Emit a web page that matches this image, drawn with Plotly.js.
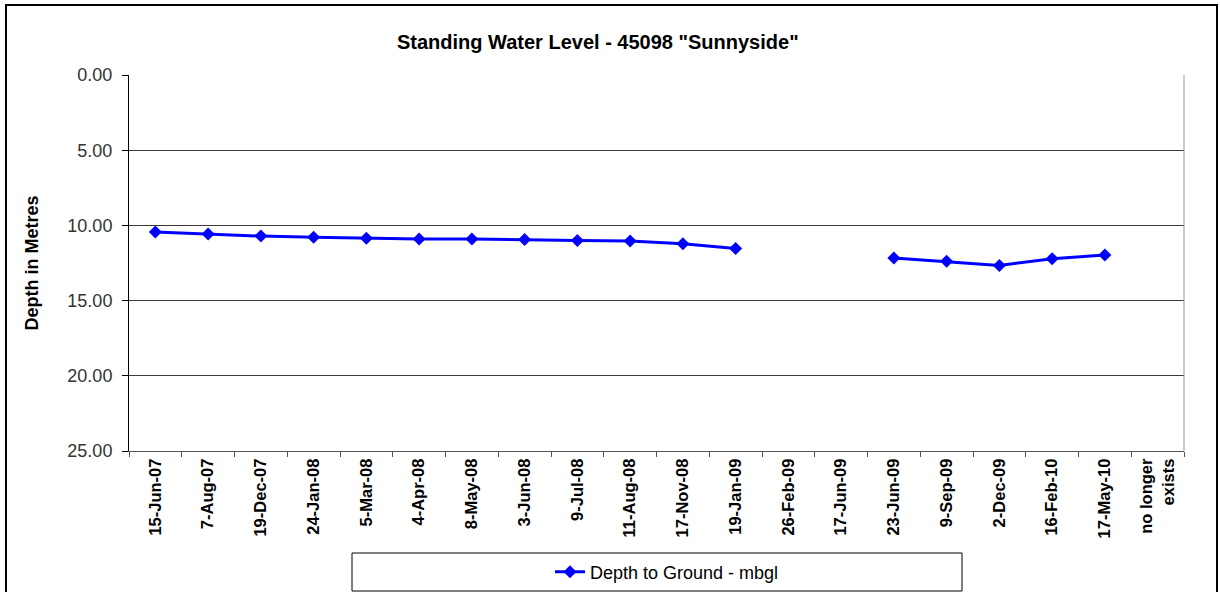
<!DOCTYPE html>
<html>
<head>
<meta charset="utf-8">
<script src="https://cdn.plot.ly/plotly-3.0.1.min.js"></script>
<style>
  html, body { margin: 0; padding: 0; background: #fff; overflow: hidden; }
  #chart { width: 1220px; height: 592px; }
  #frame { position: absolute; left: 5px; top: 4px; width: 1209px; height: 600px; border: 2px solid #000; pointer-events: none; }
</style>
</head>
<body>
<div id="chart"></div>
<div id="frame"></div>
<script>
const dates = ["15-Jun-07", "7-Aug-07", "19-Dec-07", "24-Jan-08", "5-Mar-08", "4-Apr-08",
  "8-May-08", "3-Jun-08", "9-Jul-08", "11-Aug-08", "17-Nov-08", "19-Jan-09", "26-Feb-09",
  "17-Jun-09", "23-Jun-09", "9-Sep-09", "2-Dec-09", "16-Feb-10", "17-May-10", "no longer<br>exists"];
const depthToGround = [10.44, 10.58, 10.71, 10.78, 10.86, 10.91, 10.91, 10.93, 11.00, 11.04,
  11.22, 11.53, null, null, 12.17, 12.39, 12.66, 12.21, 11.97, null];
const seriesName = "Depth to Ground - mbgl";
const chartTitle = 'Standing Water Level - 45098 "Sunnyside"';
const yTitle = "Depth in Metres";

const FONT = "Liberation Sans, Arial, sans-serif";

const trace = {
  x: dates,
  y: depthToGround,
  type: "scatter",
  mode: "lines+markers",
  name: seriesName,
  connectgaps: false,
  line: { color: "#0000FF", width: 3 },
  marker: { symbol: "diamond", size: 10, color: "#0000FF" },
  showlegend: true
};

const layout = {
  width: 1220,
  height: 592,
  paper_bgcolor: "#fff",
  plot_bgcolor: "#fff",
  margin: { l: 129, r: 36, t: 75, b: 141 },
  font: { family: FONT, color: "#000" },
  title: {
    text: "<b>" + chartTitle + "</b>",
    font: { family: FONT, size: 20, color: "#000" },
    x: 0.49, xref: "container", xanchor: "center",
    y: 1 - 42 / 592, yref: "container", yanchor: "middle",
    automargin: false
  },
  xaxis: {
    type: "category",
    categoryorder: "array",
    categoryarray: dates,
    range: [-0.5, dates.length - 0.5],
    tickangle: -90,
    tickson: "boundaries",
    ticks: "outside",
    ticklen: 5,
    tickcolor: "#555",
    showline: true,
    linecolor: "#555",
    linewidth: 1,
    showgrid: false,
    zeroline: false,
    tickfont: { family: FONT, size: 16.5, color: "#000", weight: "bold" },
    automargin: false,
    fixedrange: true
  },
  yaxis: {
    range: [25, 0],
    dtick: 5,
    tick0: 0,
    tickformat: ".2f",
    ticks: "outside",
    ticklen: 6,
    tickcolor: "#000",
    ticklabelstandoff: 6,
    showline: true,
    linecolor: "#000",
    linewidth: 1,
    showgrid: true,
    gridcolor: "#3a3a3a",
    gridwidth: 1,
    zeroline: false,
    tickfont: { family: FONT, size: 18, color: "#333" },
    title: {
      text: "<b>" + yTitle + "</b>",
      font: { family: FONT, size: 18, color: "#000" },
      standoff: 24
    },
    automargin: false,
    fixedrange: true
  },
  showlegend: true,
  legend: {
    orientation: "h",
    xref: "container",
    x: 550 / 1220,
    xanchor: "left",
    yref: "container",
    y: 1 - 572 / 592,
    yanchor: "middle",
    bgcolor: "rgba(0,0,0,0)",
    borderwidth: 0,
    font: { family: FONT, size: 18, color: "#000" }
  },
  shapes: [
    {
      type: "line", xref: "paper", yref: "paper",
      x0: 1, x1: 1, y0: 0, y1: 1,
      line: { color: "#999", width: 1 }
    },
    {
      type: "rect", xref: "paper", yref: "paper",
      x0: (352 - 129) / 1055, x1: (962 - 129) / 1055,
      y0: (451 - 591) / 376, y1: (451 - 553) / 376,
      line: { color: "#000", width: 1 },
      fillcolor: "rgba(0,0,0,0)",
      layer: "below"
    }
  ]
};

Plotly.newPlot("chart", [trace], layout, { displayModeBar: false, staticPlot: true });
</script>
</body>
</html>
